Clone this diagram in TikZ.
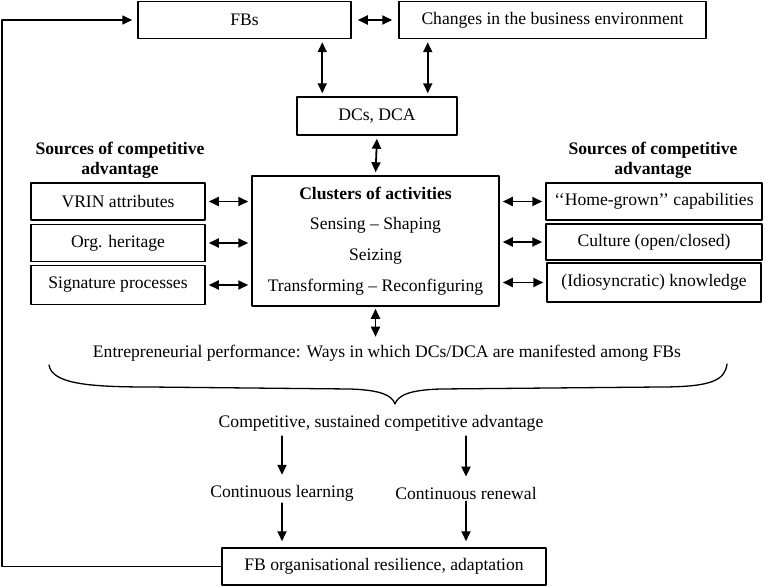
\documentclass[tikz,border=0pt]{standalone}
\usepackage{fontspec}
\setmainfont{Liberation Serif}
\usetikzlibrary{arrows.meta}

\begin{document}
\begin{tikzpicture}[line cap=round,line join=round,>={Triangle[length=10pt,width=9pt]},x=1pt,y=-1pt,
    every node/.style={font=\fontsize{17.6}{20}\selectfont},
    box/.style={draw,line width=1.5pt,minimum height=37pt,inner sep=0pt},
    txt/.style={inner sep=0pt},
    head/.style={inner sep=0pt,align=center,font=\fontsize{17.6}{20}\selectfont\bfseries},
    twoway/.style={<->,line width=1.8pt,shorten <=3pt,shorten >=3pt},
    oneway/.style={->,line width=1.8pt}]
    \useasboundingbox (0,0) rectangle (767,586);
    % top row and DCs
    \node[box,minimum width=213pt] (fb) at (244.5,20) {FBs};
    \node[box,minimum width=307pt] (env) at (552.5,20) {Changes in the business environment};
    \node[box,minimum width=160pt,minimum height=38pt] (dca) at (377,116) {DCs, DCA};
    % clusters of activities
    \node[box,minimum width=247pt,minimum height=130pt,align=center,
          font=\fontsize{17.6}{30.7}\selectfont] (clus) at (375.5,241)
        {{\bfseries Clusters of activities}\\ Sensing -- Shaping\\ Seizing\\ Transforming -- Reconfiguring};
    % sources, left
    \node[head] (lhead) at (120,160) {Sources of competitive\\ advantage};
    \node[box,minimum width=174pt] (l1) at (118,201.5) {VRIN attributes};
    \node[box,minimum width=174pt] (l2) at (118,243) {Org. heritage};
    \node[box,minimum width=174pt,minimum height=39pt] (l3) at (118,285) {Signature processes};
    % sources, right
    \node[head] (rhead) at (653,160) {Sources of competitive\\ advantage};
    \node[box,minimum width=216pt] (r1) at (654,201.5) {‘‘Home-grown’’ capabilities};
    \node[box,minimum width=216pt,minimum height=36pt] (r2) at (654,242) {Culture (open/closed)};
    \node[box,minimum width=214pt,minimum height=39pt] (r3) at (654,282.5) {(Idiosyncratic) knowledge};
    % outcomes
    \node[txt] (perf) at (387,353) {Entrepreneurial performance: Ways in which DCs/DCA are manifested among FBs};
    \node[txt] (comp) at (381,423) {Competitive, sustained competitive advantage};
    \node[txt] (learn) at (282,493) {Continuous learning};
    \node[txt] (renew) at (466,493) {Continuous renewal};
    \node[box,minimum width=324pt] (res) at (384,566.5) {FB organisational resilience, adaptation};
    \coordinate (loop) at (2,20);

    \draw[twoway,shorten <=6pt,shorten >=6pt] (fb.east) -- (env.west);
    \draw[twoway] ([xshift=26pt]dca.north west |- fb.south) -- ([xshift=26pt]dca.north west);
    \draw[twoway] ([xshift=-30pt]dca.north east |- env.south) -- ([xshift=-30pt]dca.north east);
    \draw[twoway] (dca.south) -- (clus.north);
    \foreach \s in {l1,l2,l3}
        \draw[twoway] (\s.east) -- (\s.east -| clus.west);
    \foreach \s in {r1,r2,r3}
        \draw[twoway] (\s.west -| clus.east) -- (\s.west);
    \draw[twoway,shorten <=2pt,shorten >=8pt] (clus.south) -- (clus.south |- perf.north);
    % brace
    \draw[line width=1.3pt] (49,365) .. controls (52,384) and (90,387) .. (150,387)
        -- (350,389) .. controls (380,390) and (392,395) .. (395,404)
        .. controls (398,395) and (410,390) .. (440,389)
        -- (660,387) .. controls (712,387) and (725,380) .. (727,364);
    \foreach \s in {learn,renew} {
        \draw[oneway,shorten <=5pt,shorten >=10pt] (\s |- comp.south) -- (\s.north);
        \draw[oneway,shorten <=2pt,shorten >=6pt] (\s.south) -- (\s.south |- res.north);
    }
    \draw[oneway,line width=1.5pt,shorten >=5pt] (res.west) -| (loop) -- (fb.west);
\end{tikzpicture}
\end{document}
